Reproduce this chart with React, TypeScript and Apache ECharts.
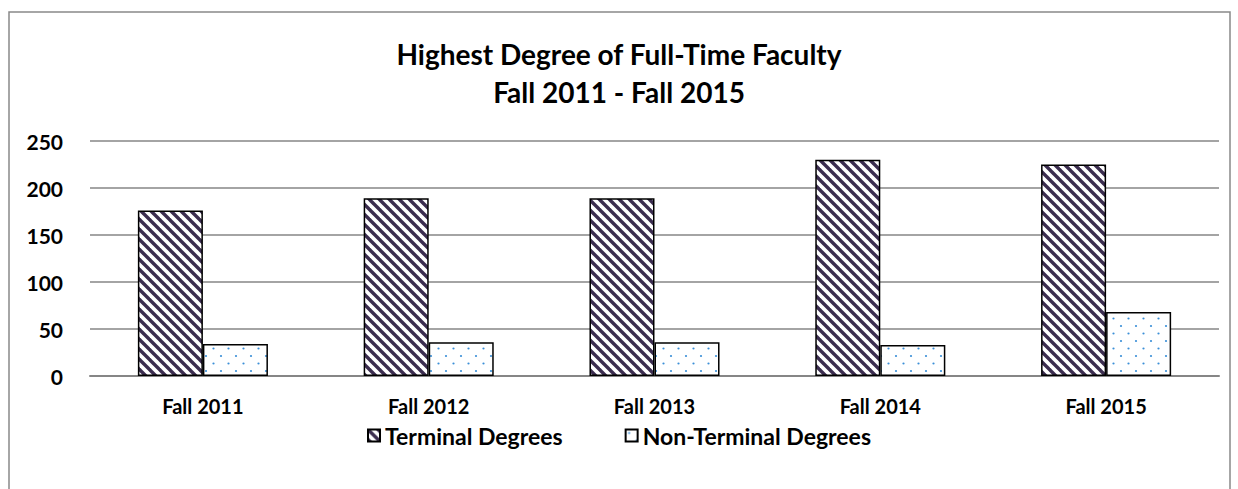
import React, { useEffect, useRef } from "react";
import * as echarts from "echarts";

const categories = ["Fall 2011", "Fall 2012", "Fall 2013", "Fall 2014", "Fall 2015"];
const terminal = [176, 189, 189, 230, 225];
const nonTerminal = [34, 36, 36, 33, 68];
const seriesNames = ["Terminal Degrees", "Non-Terminal Degrees"];
const titleLines = ["Highest Degree of Full-Time Faculty", "Fall 2011 - Fall 2015"];

function stripeCanvas() {
  const c = document.createElement("canvas");
  const n = 10;
  c.width = n;
  c.height = n;
  const ctx = c.getContext("2d")!;
  ctx.fillStyle = "#ffffff";
  ctx.fillRect(0, 0, n, n);
  ctx.strokeStyle = "#3b2d4f";
  ctx.lineWidth = 3.4;
  for (const k of [-n, 0, n]) {
    ctx.beginPath();
    ctx.moveTo(k - 2, -2);
    ctx.lineTo(k + n + 2, n + 2);
    ctx.stroke();
  }
  return c;
}

function dotCanvas() {
  const c = document.createElement("canvas");
  const n = 15;
  c.width = n;
  c.height = n;
  const ctx = c.getContext("2d")!;
  ctx.fillStyle = "#ffffff";
  ctx.fillRect(0, 0, n, n);
  ctx.fillStyle = "#3a8fd8";
  for (const [x, y] of [[3.5, 3.5], [11, 11]]) {
    ctx.beginPath();
    ctx.arc(x, y, 1.1, 0, Math.PI * 2);
    ctx.fill();
  }
  return c;
}

export default function App() {
  const ref = useRef<HTMLDivElement>(null);
  useEffect(() => {
    if (!ref.current) return;
    const chart = echarts.init(ref.current, null, { renderer: "svg" });
    const stripe = { image: stripeCanvas() as any, repeat: "repeat" as const };
    const dots = { image: dotCanvas() as any, repeat: "repeat" as const };
    const font = "Lato";
    chart.setOption({
      animation: false,
      backgroundColor: "#ffffff",
      title: {
        text: titleLines.join("\n"),
        left: "center",
        top: 30,
        textStyle: { fontFamily: font, fontWeight: "bold", fontSize: 28, color: "#000", lineHeight: 38 },
      },
      graphic: [
        {
          type: "rect",
          shape: { x: 9, y: 12, width: 1221, height: 490 },
          style: { fill: "none", stroke: "#898989", lineWidth: 1.5 },
          silent: true,
          z: -10,
        },
      ],
      legend: {
        data: seriesNames,
        bottom: 37,
        left: "center",
        icon: "rect",
        itemWidth: 12,
        itemHeight: 12,
        itemGap: 62,
        textStyle: { fontFamily: font, fontWeight: "bold", fontSize: 23, color: "#000" },
      },
      grid: { left: 90, right: 19, top: 141, bottom: 113 },
      xAxis: {
        type: "category",
        data: categories,
        axisLine: { lineStyle: { color: "#868686", width: 2 } },
        axisTick: { show: false },
        axisLabel: { fontFamily: font, fontWeight: "bold", fontSize: 20, color: "#000", margin: 20 },
      },
      yAxis: {
        type: "value",
        min: 0,
        max: 250,
        interval: 50,
        axisLine: { show: false },
        axisTick: { show: false },
        splitLine: { lineStyle: { color: "#868686", width: 1.5 } },
        axisLabel: { fontFamily: font, fontWeight: "bold", fontSize: 21, color: "#000", margin: 27 },
      },
      series: [
        {
          name: seriesNames[0],
          type: "bar",
          data: terminal,
          barGap: "0%",
          barCategoryGap: "42.4%",
          itemStyle: { color: stripe, borderColor: "#000", borderWidth: 1.5 },
        },
        {
          name: seriesNames[1],
          type: "bar",
          data: nonTerminal,
          itemStyle: { color: dots, borderColor: "#000", borderWidth: 1.5 },
        },
      ],
    });
    return () => chart.dispose();
  }, []);
  return (
    <div
      ref={ref}
      style={{ position: "fixed", left: 0, top: 0, width: 1238, height: 489, background: "#fff" }}
    />
  );
}
